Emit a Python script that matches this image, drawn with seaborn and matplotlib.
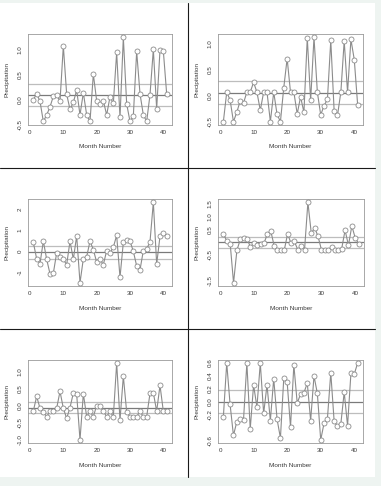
import matplotlib
matplotlib.use("Agg")
import matplotlib.pyplot as plt
import seaborn as sns
import numpy as np
from matplotlib.lines import Line2D
from matplotlib.patches import Rectangle

months = list(range(1, 42))

precip_a = [0.0, 0.12, -0.03, -0.43, -0.3, -0.14, 0.07, 0.1, -0.03, 1.07,
            0.11, -0.19, -0.05, 0.19, -0.3, 0.14, -0.3, -0.43, 0.51, -0.02,
            -0.09, -0.02, -0.3, 0.06, -0.07, 0.94, -0.35, 1.24, -0.08, -0.43,
            -0.32, 0.96, 0.12, -0.3, -0.43, 0.1, 1.0, -0.18, 0.99, 0.97, 0.12]
precip_b = [-0.51, 0.06, -0.09, -0.51, -0.33, -0.11, -0.15, 0.06, 0.06, 0.25,
            0.06, -0.29, 0.06, 0.06, -0.51, 0.06, -0.37, -0.51, 0.15, 0.71,
            0.06, 0.06, -0.36, -0.03, -0.33, 1.11, -0.1, 1.12, 0.06, -0.38,
            -0.2, -0.08, 1.06, -0.3, -0.39, 0.06, 1.05, 0.06, 1.08, 0.69, -0.18]
precip_c = [0.43, -0.36, -0.59, 0.49, -0.38, -1.08, -1.05, -0.07, -0.26, -0.39,
            -0.64, 0.49, -0.38, 0.74, -1.51, -0.36, -0.26, 0.49, 0.08, -0.52,
            -0.38, -0.64, 0.03, -0.07, 0.2, 0.77, -1.25, 0.43, 0.54, 0.49,
            0.0, -0.7, -0.89, 0.03, 0.11, 0.46, 2.36, -0.61, 0.72, 0.87, 0.75]
precip_d = [0.33, 0.05, -0.05, -1.59, -0.31, 0.11, 0.15, 0.13, -0.19, -0.03,
            -0.11, -0.08, -0.04, 0.32, 0.45, -0.13, -0.31, -0.31, -0.31, 0.33,
            -0.04, 0.03, -0.29, -0.15, -0.31, 1.57, 0.35, 0.57, 0.23, -0.29,
            -0.29, -0.29, -0.2, -0.29, -0.29, -0.25, 0.47, -0.12, 0.64, 0.17, -0.05]
precip_e = [-0.16, 0.27, -0.08, -0.19, -0.33, -0.17, -0.17, -0.08, 0.42, -0.08,
            -0.38, -0.06, 0.37, 0.34, -1.02, 0.35, -0.33, -0.17, -0.33, 0.0,
            0.0, -0.17, -0.33, -0.17, -0.33, 1.26, -0.43, 0.87, -0.19, -0.33,
            -0.33, -0.33, -0.17, -0.33, -0.33, 0.36, 0.38, -0.17, 0.6, -0.17, -0.17]
precip_f = [-0.23, 0.6, -0.04, -0.52, -0.31, -0.27, -0.28, 0.6, -0.42, 0.26,
            -0.08, 0.6, -0.18, 0.26, -0.29, 0.36, -0.27, -0.56, 0.37, 0.31,
            -0.39, 0.57, -0.02, 0.12, 0.14, 0.29, -0.29, 0.4, 0.13, -0.59,
            -0.33, -0.26, 0.45, -0.3, -0.38, -0.34, 0.15, -0.37, 0.44, 0.43, 0.6]

# reference lines (upper, mean, lower)
bands_a = [0.32, 0.10, -0.12]
bands_b = [0.28, 0.05, -0.16]
bands_c = [0.28, -0.03, -0.36]
bands_d = [0.20, -0.01, -0.24]
bands_e = [0.10, -0.06, -0.21]
bands_f = [0.19, 0.00, -0.17]

yticks_a = [-0.5, 0.0, 0.5, 1.0]
ylabels_a = ["-0.5", "0.0", "0.5", "1.0"]
yticks_b = [-0.5, 0.0, 0.5, 1.0]
ylabels_b = ["-0.5", "0.0", "0.5", "1.0"]
yticks_c = [-1, 0, 1, 2]
ylabels_c = ["-1", "0", "1", "2"]
yticks_d = [-1.5, -1.0, -0.5, 0.0, 0.5, 1.0, 1.5]
ylabels_d = ["-1.5", "", "-0.5", "", "0.5", "1.0", "1.5"]
yticks_e = [-1.0, -0.5, 0.0, 0.5, 1.0]
ylabels_e = ["-1.0", "-0.5", "0.0", "0.5", "1.0"]
yticks_f = [-0.6, -0.4, -0.2, 0.0, 0.2, 0.4, 0.6]
ylabels_f = ["-0.6", "", "-0.2", "0.0", "0.2", "0.4", "0.6"]

xticks = [0, 10, 20, 30, 40]

panels = [
    (precip_a, bands_a, yticks_a, ylabels_a, (28, 34, 172, 125)),
    (precip_b, bands_b, yticks_b, ylabels_b, (218, 34, 363, 125)),
    (precip_c, bands_c, yticks_c, ylabels_c, (28, 199, 172, 286)),
    (precip_d, bands_d, yticks_d, ylabels_d, (218, 199, 364, 286)),
    (precip_e, bands_e, yticks_e, ylabels_e, (28, 360, 172, 443)),
    (precip_f, bands_f, yticks_f, ylabels_f, (218, 360, 363, 443)),
]

sns.set_theme(style="white")
plt.rcParams["font.family"] = ["Liberation Sans", "DejaVu Sans"]

W, H = 381, 486
fig = plt.figure(figsize=(W / 100, H / 100), dpi=100)
fig.patch.set_facecolor("#eef4f1")
fig.add_artist(Rectangle((0, 1 - 477 / H), 375 / W, (477 - 3) / H,
                         transform=fig.transFigure, facecolor="white",
                         edgecolor="none", zorder=0))

text_col = "#3a3a3a"
line_col = "#8c8c8c"

for vals, bands, yt, yl, (l, t, r, b) in panels:
    ax = fig.add_axes([l / W, 1 - b / H, (r - l) / W, (b - t) / H])
    ax.set_facecolor("white")
    for i, v in enumerate(bands):
        ax.axhline(v, color="#7a7a7a" if i == 1 else "#bdbdbd", lw=0.9, zorder=1)
    sns.lineplot(x=months, y=vals, ax=ax, color=line_col, lw=0.8,
                 marker="o", markersize=3.6, markerfacecolor="white",
                 markeredgecolor=line_col, markeredgewidth=0.6, zorder=3)
    lo, hi = min(vals), max(vals)
    pad = 0.04 * (hi - lo)
    ax.set_ylim(lo - pad, hi + pad)
    ax.set_xlim(-0.6, 42.6)
    ax.set_xticks(xticks)
    ax.set_xticklabels([str(x) for x in xticks])
    ax.set_yticks(yt)
    ax.set_yticklabels(yl, rotation=90, va="center")
    ax.tick_params(axis="both", direction="out", length=2.2, width=0.5,
                   color="#666666", labelsize=4.5, labelcolor=text_col, pad=1.5)
    for s in ax.spines.values():
        s.set_color("#9a9a9a")
        s.set_linewidth(0.6)
    ax.set_xlabel("Month Number", fontsize=4.6, color=text_col)
    ax.set_ylabel("Precipitation", fontsize=4.6, color=text_col)
    ax.xaxis.set_label_coords(0.5, -19.5 / (b - t))
    ax.yaxis.set_label_coords(-18.5 / (r - l), 0.5)

# panel dividers
div = "#1a1a1a"
fig.add_artist(Line2D([188 / W, 188 / W], [1 - 3 / H, 1 - 477 / H],
                      transform=fig.transFigure, color=div, lw=0.8))
for y in (168, 329):
    fig.add_artist(Line2D([0, 375 / W], [1 - y / H, 1 - y / H],
                          transform=fig.transFigure, color=div, lw=0.8))

fig.savefig("out.png", dpi=100, facecolor=fig.get_facecolor())
